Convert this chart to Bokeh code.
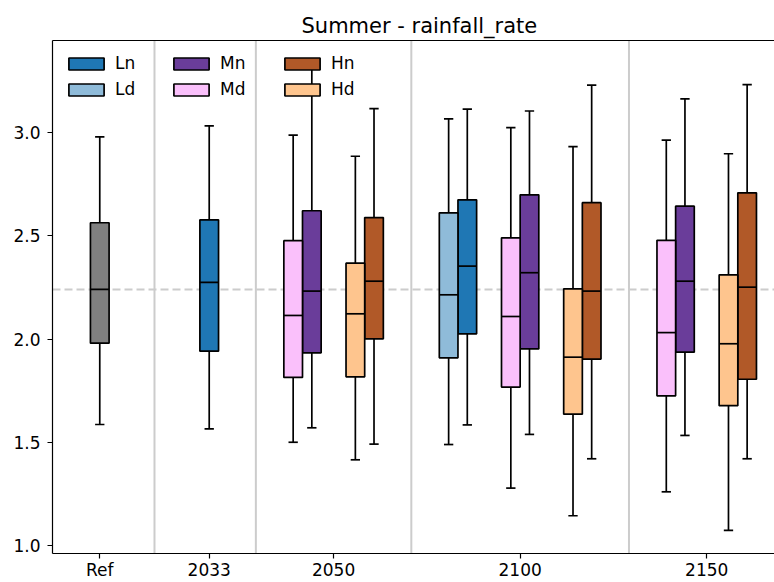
from bokeh.plotting import figure
from bokeh.models import (ColumnDataSource, Span, FixedTicker, Legend, LegendItem,
                          LinearAxis, Range1d, PrintfTickFormatter)
from bokeh.embed import file_html
from bokeh.resources import INLINE

# ---------------- data ----------------
periods = ["Ref", "2033", "2050", "2100", "2150"]
y_ticks = [1.0, 1.5, 2.0, 2.5, 3.0]

box_period = ["Ref", "2033",
              "2050", "2050", "2050", "2050",
              "2100", "2100", "2100", "2100", "2100", "2100",
              "2150", "2150", "2150", "2150"]
box_series = ["Ref", "Ln",
              "Md", "Mn", "Hd", "Hn",
              "Ld", "Ln", "Md", "Mn", "Hd", "Hn",
              "Md", "Mn", "Hd", "Hn"]
whis_lo = [1.586, 1.565,
           1.500, 1.570, 1.415, 1.491,
           1.489, 1.584, 1.278, 1.538, 1.144, 1.420,
           1.260, 1.533, 1.073, 1.420]
q1 = [1.980, 1.941,
      1.814, 1.933, 1.817, 2.001,
      1.909, 2.025, 1.767, 1.952, 1.636, 1.903,
      1.725, 1.936, 1.677, 1.805]
median = [2.240, 2.274,
          2.114, 2.232, 2.122, 2.280,
          2.214, 2.353, 2.109, 2.321, 1.912, 2.232,
          2.031, 2.280, 1.977, 2.251]
q3 = [2.563, 2.577,
      2.476, 2.621, 2.367, 2.588,
      2.611, 2.674, 2.490, 2.698, 2.243, 2.660,
      2.478, 2.643, 2.311, 2.708]
whis_hi = [2.979, 3.032,
           2.987, 3.330, 2.885, 3.116,
           3.066, 3.113, 3.024, 3.104, 2.932, 3.229,
           2.963, 3.163, 2.897, 3.232]

series_colors = {"Ref": "#808080",
                 "Ln": "#1f77b4", "Ld": "#8fbbd9",
                 "Mn": "#6a3d9a", "Md": "#fac0fb",
                 "Hn": "#b15928", "Hd": "#fec58e"}

# ---------------- layout (positions) ----------------
pair_center = {("Ref", "R"): -1.76, ("2033", "L"): 0.0,
               ("2050", "M"): 1.5, ("2050", "H"): 2.5,
               ("2100", "L"): 4.0, ("2100", "M"): 5.0, ("2100", "H"): 6.0,
               ("2150", "M"): 7.5, ("2150", "H"): 8.5}
BOX_W = 0.3
CAP_W = 0.15
LW = 1.7

present = set(zip(box_period, box_series))
xs = []
for per, ser in zip(box_period, box_series):
    letter = ser[0]
    c = pair_center[(per, letter)]
    if ser == "Ref":
        xs.append(c)
        continue
    other = letter + ("d" if ser[1] == "n" else "n")
    if (per, other) in present:
        xs.append(c + (-BOX_W / 2 if ser[1] == "d" else BOX_W / 2))
    else:
        xs.append(c)

tick_pos = []
for per in periods:
    cs = [v for (pp, _), v in pair_center.items() if pp == per]
    tick_pos.append(sum(cs) / len(cs))
sep_pos = []
for a, b in zip(periods[:-1], periods[1:]):
    last = max(v for (pp, _), v in pair_center.items() if pp == a)
    first = min(v for (pp, _), v in pair_center.items() if pp == b)
    sep_pos.append((last + first) / 2)

FONT = "DejaVu Sans"

p = figure(width=774, height=582, output_backend="svg", toolbar_location=None,
           x_range=Range1d(-2.52, 9.09), y_range=Range1d(0.9613, 3.4455),
           min_border_left=52, min_border_right=0, min_border_top=40,
           min_border_bottom=0, title="Summer - rainfall_rate")
p.outline_line_color = None
p.grid.visible = False
p.background_fill_color = "white"

p.title.text_font = FONT
p.title.text_font_size = "21px"
p.title.text_font_style = "normal"
p.title.text_color = "black"
p.title.align = "left"
p.title.offset = 249
p.title.standoff = 5

# axes
for ax in (p.xaxis[0], p.yaxis[0]):
    ax.axis_label = None
    ax.axis_label_standoff = 0
    ax.axis_line_color = "black"
    ax.axis_line_width = 1.2
    ax.major_tick_line_color = "black"
    ax.major_tick_line_width = 1.2
    ax.major_tick_in = 0
    ax.major_tick_out = 5
    ax.minor_tick_line_color = None
    ax.major_label_text_font = FONT
    ax.major_label_text_font_size = "17px"
    ax.major_label_text_color = "black"
p.yaxis[0].ticker = FixedTicker(ticks=y_ticks)
p.yaxis[0].formatter = PrintfTickFormatter(format="%.1f")
p.yaxis[0].major_label_standoff = 7
p.xaxis[0].ticker = FixedTicker(ticks=tick_pos)
p.xaxis[0].major_label_overrides = {t: lab for t, lab in zip(tick_pos, periods)}
p.xaxis[0].major_label_standoff = 1

top_axis = LinearAxis(ticker=FixedTicker(ticks=[]), axis_line_color="black",
                      axis_line_width=1.2, major_tick_line_color=None,
                      minor_tick_line_color=None, major_label_text_font_size="0px",
                      major_label_standoff=0, axis_label=None, axis_label_standoff=0)
p.add_layout(top_axis, "above")

# separators and reference line
for s in sep_pos:
    p.add_layout(Span(location=s, dimension="height", line_color="#cccccc",
                      line_width=2, level="underlay"))
ref_med = median[box_series.index("Ref")]
p.add_layout(Span(location=ref_med, dimension="width", line_color="#cccccc",
                  line_width=2, line_dash="8 4", level="underlay"))

# whiskers and caps
src_all = ColumnDataSource(dict(x=xs, lo=whis_lo, q1=q1, med=median, q3=q3, hi=whis_hi,
                                cl=[x - CAP_W / 2 for x in xs], cr=[x + CAP_W / 2 for x in xs],
                                bl=[x - BOX_W / 2 for x in xs], br=[x + BOX_W / 2 for x in xs]))
p.segment(x0="x", y0="q3", x1="x", y1="hi", source=src_all, line_color="black", line_width=LW)
p.segment(x0="x", y0="q1", x1="x", y1="lo", source=src_all, line_color="black", line_width=LW)
p.segment(x0="cl", y0="hi", x1="cr", y1="hi", source=src_all, line_color="black", line_width=LW)
p.segment(x0="cl", y0="lo", x1="cr", y1="lo", source=src_all, line_color="black", line_width=LW)

# boxes per series
renderers = {}
for ser, col in series_colors.items():
    idx = [i for i, s in enumerate(box_series) if s == ser]
    src = ColumnDataSource(dict(x=[xs[i] for i in idx], b=[q1[i] for i in idx],
                                t=[q3[i] for i in idx]))
    renderers[ser] = p.vbar(x="x", width=BOX_W, bottom="b", top="t", source=src,
                            fill_color=col, line_color="black", line_width=LW)

p.segment(x0="bl", y0="med", x1="br", y1="med", source=src_all, line_color="black", line_width=LW)

# legends: three columns
legend_cols = [("Ln", "Ld"), ("Mn", "Md"), ("Hn", "Hd")]
legend_x = [12, 117, 228]
for (a, b), lx in zip(legend_cols, legend_x):
    lg = Legend(items=[LegendItem(label=a, renderers=[renderers[a]]),
                       LegendItem(label=b, renderers=[renderers[b]])],
                location=(lx, 454), orientation="vertical",
                glyph_width=44, glyph_height=15, label_standoff=7,
                label_height=20, spacing=6, padding=0, margin=0,
                background_fill_alpha=0, border_line_color=None,
                label_text_font=FONT, label_text_font_size="17px",
                label_text_color="black")
    p.add_layout(lg, "center")

open("out.html", "w").write(file_html(p, INLINE))
